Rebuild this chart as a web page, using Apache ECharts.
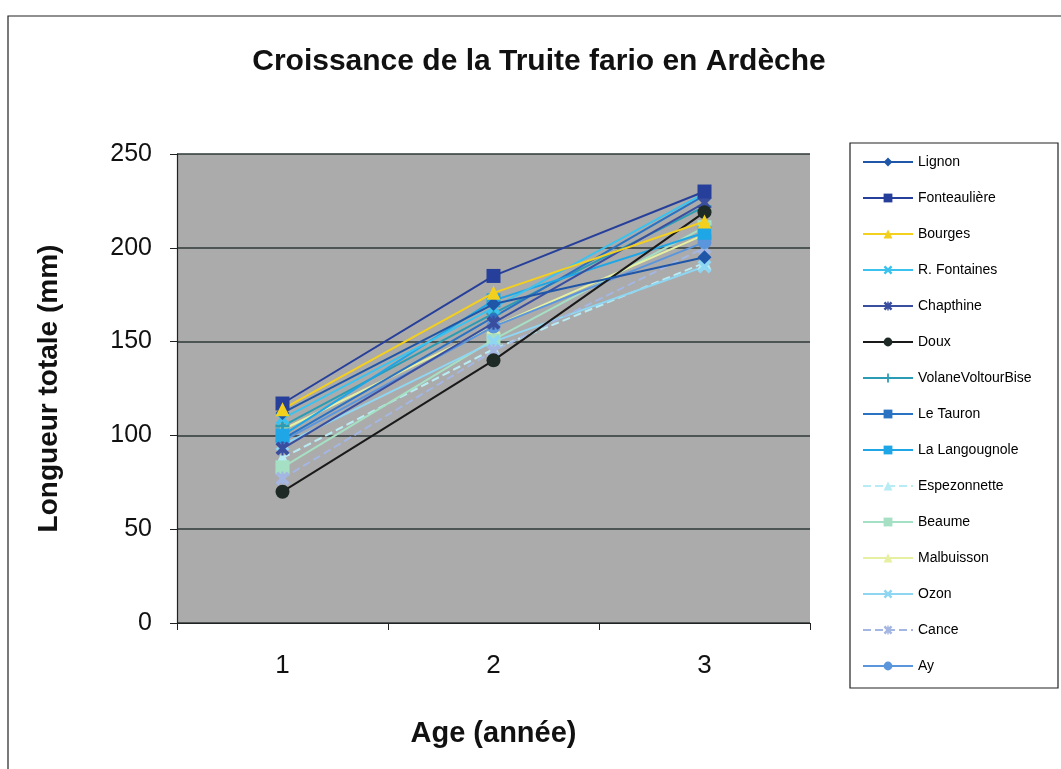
<!DOCTYPE html>
<html><head><meta charset="utf-8">
<script src="https://cdn.jsdelivr.net/npm/echarts@6/dist/echarts.min.js"></script>
<style>html,body{margin:0;padding:0;background:#fff}#c{width:1061px;height:769px}</style>
</head><body><div id="c"></div>
<script>
const categories = ['1', '2', '3'];
const seriesNames = ['Lignon','Fonteaulière','Bourges','R. Fontaines','Chapthine','Doux','VolaneVoltourBise','Le Tauron','La Langougnole','Espezonnette','Beaume','Malbuisson','Ozon','Cance','Ay'];
const lignon = [112, 170, 195];
const fonteauliere = [117, 185, 230];
const bourges = [114, 176, 214];
const rFontaines = [109, 168, 229];
const chapthine = [93, 160, 224];
const doux = [70, 140, 219];
const volane = [105, 165, 222];
const leTauron = [98, 163, 228];
const laLangougnole = [100, 172, 208];
const espezonnette = [88, 146, 192];
const beaume = [83, 151, 211];
const malbuisson = [103, 158, 207];
const ozon = [95, 150, 190];
const cance = [77, 145, 200];
const ay = [97, 158, 203];
const yTicks = [0, 50, 100, 150, 200, 250];

const X = 'path://M0,2L2,0L5,3L8,0L10,2L7,5L10,8L8,10L5,7L2,10L0,8L3,5Z';
const PLUS = 'path://M4,0H6V4H10V6H6V10H4V6H0V4H4Z';
const STAR = 'path://M0,2L2,0L5,3L8,0L10,2L7,5L10,8L8,10L5,7L2,10L0,8L3,5Z M4.2,0H5.8V10H4.2Z';

const styles = [
  {c:'#1f56a8', s:'diamond', z:11},
  {c:'#263f9a', s:'rect', z:11},
  {c:'#f3cf1e', s:'triangle', z:11},
  {c:'#3cc2ee', s:X, z:10},
  {c:'#3a4ea0', s:STAR, z:10},
  {c:'#1e2a26', s:'circle', z:10, lc:'#1a1a1a'},
  {c:'#2a9cb4', s:PLUS, z:9},
  {c:'#2a72c2', s:'rect', z:9, size:8},
  {c:'#1ea6e6', s:'rect', z:9},
  {c:'#b8ecf4', s:'triangle', z:8, dash:'dashed'},
  {c:'#a6e0c4', s:'rect', z:8},
  {c:'#e6f0a0', s:'triangle', z:8},
  {c:'#8fd6f2', s:X, z:8},
  {c:'#a4b6e2', s:STAR, z:8, dash:'dashed'},
  {c:'#5b96dc', s:'circle', z:8}
];
const dataArr = [lignon, fonteauliere, bourges, rFontaines, chapthine, doux, volane, leTauron, laLangougnole, espezonnette, beaume, malbuisson, ozon, cance, ay];

const series = seriesNames.map((n, i) => ({
  name: n,
  type: 'line',
  data: dataArr[i],
  symbol: styles[i].s,
  symbolSize: styles[i].size || 14,
  z: styles[i].z,
  lineStyle: {color: styles[i].lc || styles[i].c, width: 2, type: styles[i].dash || 'solid'},
  itemStyle: {color: styles[i].c, borderColor: styles[i].c, borderWidth: 0},
  emphasis: {disabled: true}
}));

const chart = echarts.init(document.getElementById('c'), null, {renderer: 'canvas'});
chart.setOption({
  animation: false,
  backgroundColor: '#fff',
  textStyle: {fontFamily: 'Liberation Sans, Arial, sans-serif'},
  title: {
    text: 'Croissance de la Truite fario en Ardèche',
    left: 534, top: 42, textAlign: 'center',
    textStyle: {fontSize: 30, fontWeight: 'bold', color: '#111', fontFamily: 'Liberation Sans, Arial, sans-serif'}
  },
  graphic: [
    {type: 'rect', shape: {x: 8, y: 16, width: 1070, height: 770}, style: {fill: 'none', stroke: '#222', lineWidth: 1.2}, z: -1},
    {type: 'rect', shape: {x: 850, y: 143, width: 208, height: 545}, style: {fill: '#fff', stroke: '#222', lineWidth: 1.2}, z: 0}
  ],
  legend: {
    orient: 'vertical',
    left: 857, top: 150,
    itemWidth: 50, itemHeight: 11, itemGap: 22,
    textStyle: {fontSize: 14, color: '#000', fontFamily: 'Liberation Sans, Arial, sans-serif'},
    data: seriesNames,
    z: 5
  },
  grid: {left: 177, right: 251, top: 154, bottom: 146, backgroundColor: '#ababab', show: true, borderWidth: 0},
  xAxis: {
    type: 'category', data: categories, boundaryGap: true,
    name: 'Age (année)', nameLocation: 'middle', nameGap: 96,
    nameTextStyle: {fontSize: 29, fontWeight: 'bold', color: '#111'},
    axisLine: {lineStyle: {color: '#222', width: 1.2}},
    axisTick: {show: true, alignWithLabel: false, length: 7, lineStyle: {color: '#222'}},
    axisLabel: {fontSize: 26, color: '#111', margin: 30},
    splitLine: {show: false}
  },
  yAxis: {
    type: 'value', min: 0, max: 250, interval: 50,
    name: 'Longueur totale (mm)', nameLocation: 'middle', nameGap: 114,
    nameTextStyle: {fontSize: 28, fontWeight: 'bold', color: '#111'},
    axisLine: {show: true, lineStyle: {color: '#222', width: 1.2}},
    axisTick: {show: true, length: 7, inside: false, lineStyle: {color: '#222'}},
    axisLabel: {fontSize: 25, color: '#111', margin: 25},
    splitLine: {show: true, lineStyle: {color: '#2d3836', width: 1.5}}
  },
  series: series
});
</script></body></html>
